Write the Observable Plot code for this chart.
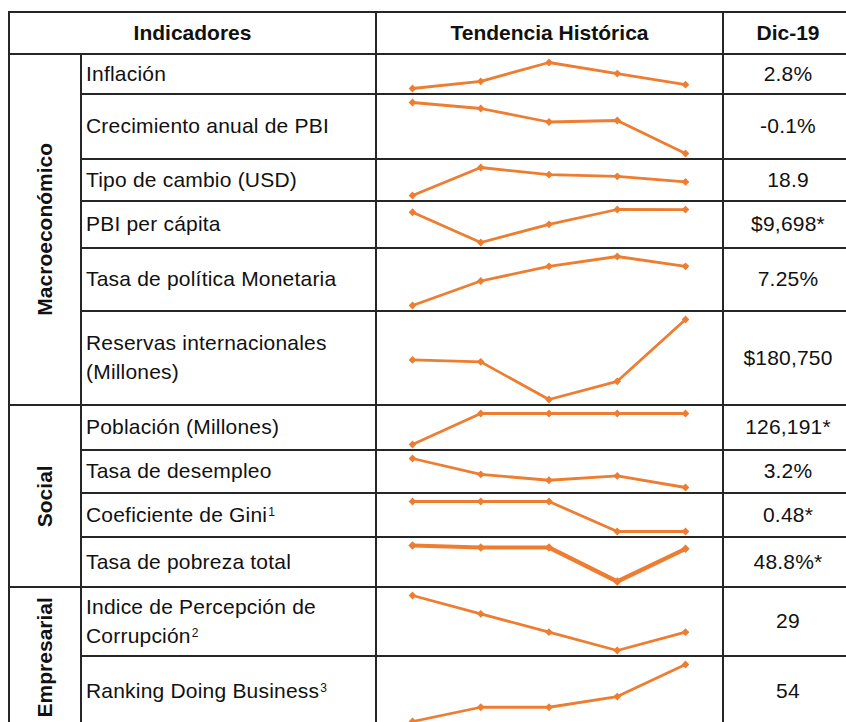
<!DOCTYPE html>
<html>
<head>
<meta charset="utf-8">
<script src="https://cdn.jsdelivr.net/npm/d3@7"></script>
<script src="https://cdn.jsdelivr.net/npm/@observablehq/plot@0.6"></script>
<style>
  html, body { margin: 0; padding: 0; overflow: hidden; background: #fff; width: 846px; height: 722px; }
  #wrap { position: relative; width: 846px; height: 722px; overflow: hidden; font-family: "Liberation Sans", Arial, sans-serif; color: #111; }
  .rule { position: absolute; background: #262626; }
  .cell { position: absolute; display: flex; align-items: center; font-size: 21px; line-height: 1.36; letter-spacing: 0.2px; box-sizing: border-box; }
  .hdr { font-weight: bold; justify-content: center; letter-spacing: 0; }
  .ind { padding-left: 5px; padding-right: 4px; }
  .ind .line { white-space: nowrap; }
  .val { justify-content: center; }
  .grp { font-weight: bold; justify-content: center; letter-spacing: 0; }
  .grp span { transform: rotate(-90deg); white-space: nowrap; display: inline-block; }
  sup { font-size: 12px; line-height: 0; vertical-align: 6px; margin-left: 1px; }
  .spark { position: absolute; }
</style>
</head>
<body>
<div id="wrap"></div>
<script>
// ---------- data ----------
const years = [2015, 2016, 2017, 2018, 2019];
const headers = ["Indicadores", "Tendencia Histórica", "Dic-19"];
const groups = ["Macroeconómico", "Social", "Empresarial"];
const groupSizes = [6, 4, 2];
const indicators = [
  "Inflación",
  "Crecimiento anual de PBI",
  "Tipo de cambio (USD)",
  "PBI per cápita",
  "Tasa de política Monetaria",
  "Reservas internacionales\n(Millones)",
  "Población (Millones)",
  "Tasa de desempleo",
  "Coeficiente de Gini",
  "Tasa de pobreza total",
  "Indice de Percepción de\nCorrupción",
  "Ranking Doing Business"
];
const footnotes = ["", "", "", "", "", "", "", "", "1", "", "2", "3"];
const latest = ["2.8%", "-0.1%", "18.9", "$9,698*", "7.25%", "$180,750",
                "126,191*", "3.2%", "0.48*", "48.8%*", "29", "54"];

const inflacion      = [2.1, 3.4, 6.8, 4.8, 2.8];
const crecimientoPBI = [3.3, 2.9, 2.0, 2.1, -0.1];
const tipoCambio     = [17.2, 20.7, 19.8, 19.6, 18.9];
const pbiPerCapita   = [9620, 8740, 9270, 9700, 9698];
const tasaPolitica   = [3.25, 5.75, 7.25, 8.25, 7.25];
const reservas       = [176735, 176542, 172802, 174609, 180750];
const poblacion      = [119938, 126191, 126191, 126191, 126191];
const desempleo      = [4.2, 3.65, 3.45, 3.6, 3.2];
const gini           = [0.51, 0.51, 0.51, 0.48, 0.48];
const pobreza        = [49.3, 49.0, 49.0, 43.9, 48.8];
const corrupcion     = [31, 30, 29, 28, 29];
const doingBusiness  = [38, 42, 42, 45, 54];

const series = [inflacion, crecimientoPBI, tipoCambio, pbiPerCapita, tasaPolitica, reservas,
                poblacion, desempleo, gini, pobreza, corrupcion, doingBusiness];

// ---------- layout (not data) ----------
const tableTop = 12;
const headerH = 42;
const colX = [9, 81, 376, 723, 853];
const rowH = [40, 65, 42, 47, 63, 94, 45, 43, 44, 50, 69, 71];
const orange = "#ED7D31";

const wrap = document.getElementById("wrap");
function rule(x, y, w, h) {
  const d = document.createElement("div");
  d.className = "rule";
  d.style.left = x + "px"; d.style.top = y + "px";
  d.style.width = w + "px"; d.style.height = h + "px";
  wrap.appendChild(d);
}
function cell(cls, x, y, w, h, html) {
  const d = document.createElement("div");
  d.className = "cell " + cls;
  d.style.left = x + "px"; d.style.top = y + "px";
  d.style.width = w + "px"; d.style.height = h + "px";
  d.innerHTML = html;
  wrap.appendChild(d);
  return d;
}

// row tops
const rowTop = [];
let yy = tableTop + headerH;
for (const h of rowH) { rowTop.push(yy); yy += h; }
const tableBottom = yy;

// group starts
const groupStart = [];
{ let k = 0; for (const s of groupSizes) { groupStart.push(k); k += s; } }

// headers
cell("hdr", colX[0], tableTop, colX[2] - colX[0], headerH, headers[0]);
cell("hdr", colX[2], tableTop, colX[3] - colX[2], headerH, headers[1]);
cell("hdr", colX[3], tableTop, colX[4] - colX[3], headerH, headers[2]);

// group labels
groups.forEach((g, gi) => {
  const a = groupStart[gi], b = a + groupSizes[gi];
  const top = rowTop[a], bottom = b < rowTop.length ? rowTop[b] : tableBottom;
  cell("grp", colX[0], top, colX[1] - colX[0], bottom - top, `<span>${g}</span>`);
});

// rows
indicators.forEach((name, i) => {
  const top = rowTop[i], h = rowH[i];
  const sup = footnotes[i] ? `<sup>${footnotes[i]}</sup>` : "";
  const lines = name.split("\n");
  const html = lines.map((ln, k) =>
    `<div class="line">${ln}${k === lines.length - 1 ? sup : ""}</div>`).join("");
  cell("ind", colX[1], top, colX[2] - colX[1], h, `<div>${html}</div>`);
  cell("val", colX[3], top, colX[4] - colX[3], h, latest[i]);

  const data = years.map((yr, j) => ({year: yr, value: series[i][j]}));
  const sw = i === 9 ? 4.2 : 2.8;
  const svg = Plot.plot({
    width: colX[3] - colX[2],
    height: h,
    marginLeft: 36,
    marginRight: 38,
    marginTop: 8,
    marginBottom: 6,
    x: {type: "linear", domain: [years[0], years[years.length - 1]], axis: null},
    y: {axis: null, domain: d3.extent(series[i])},
    style: {background: "transparent", overflow: "visible"},
    marks: [
      Plot.line(data, {x: "year", y: "value", stroke: orange, strokeWidth: sw, strokeLinejoin: "round"}),
      Plot.dot(data, {x: "year", y: "value", symbol: "diamond2", r: i === 9 ? 3.8 : 3.5, fill: orange, stroke: "none"})
    ]
  });
  svg.classList.add("spark");
  svg.style.left = colX[2] + "px";
  svg.style.top = top + "px";
  svg.style.position = "absolute";
  wrap.appendChild(svg);
});

// grid rules (2px, centred on boundaries)
const lw = 2;
rule(colX[0] - 1, tableTop - 1, colX[4] - colX[0] + 2, lw);               // top
rule(colX[0] - 1, tableTop + headerH - 1, colX[4] - colX[0] + 2, lw);     // header bottom
rowTop.forEach((t, i) => {
  if (i === 0) return;
  const isGroup = groupStart.includes(i);
  const x0 = isGroup ? colX[0] : colX[1];
  rule(x0 - 1, t - 1, colX[4] - x0 + 2, lw);
});
rule(colX[0] - 1, tableBottom - 1, colX[4] - colX[0] + 2, lw);
rule(colX[0] - 1, tableTop - 1, lw, tableBottom - tableTop + 2);
rule(colX[1] - 1, tableTop + headerH - 1, lw, tableBottom - tableTop - headerH + 2);
rule(colX[2] - 1, tableTop - 1, lw, tableBottom - tableTop + 2);
rule(colX[3] - 1, tableTop - 1, lw, tableBottom - tableTop + 2);
rule(colX[4] - 1, tableTop - 1, lw, tableBottom - tableTop + 2);
</script>
</body>
</html>
